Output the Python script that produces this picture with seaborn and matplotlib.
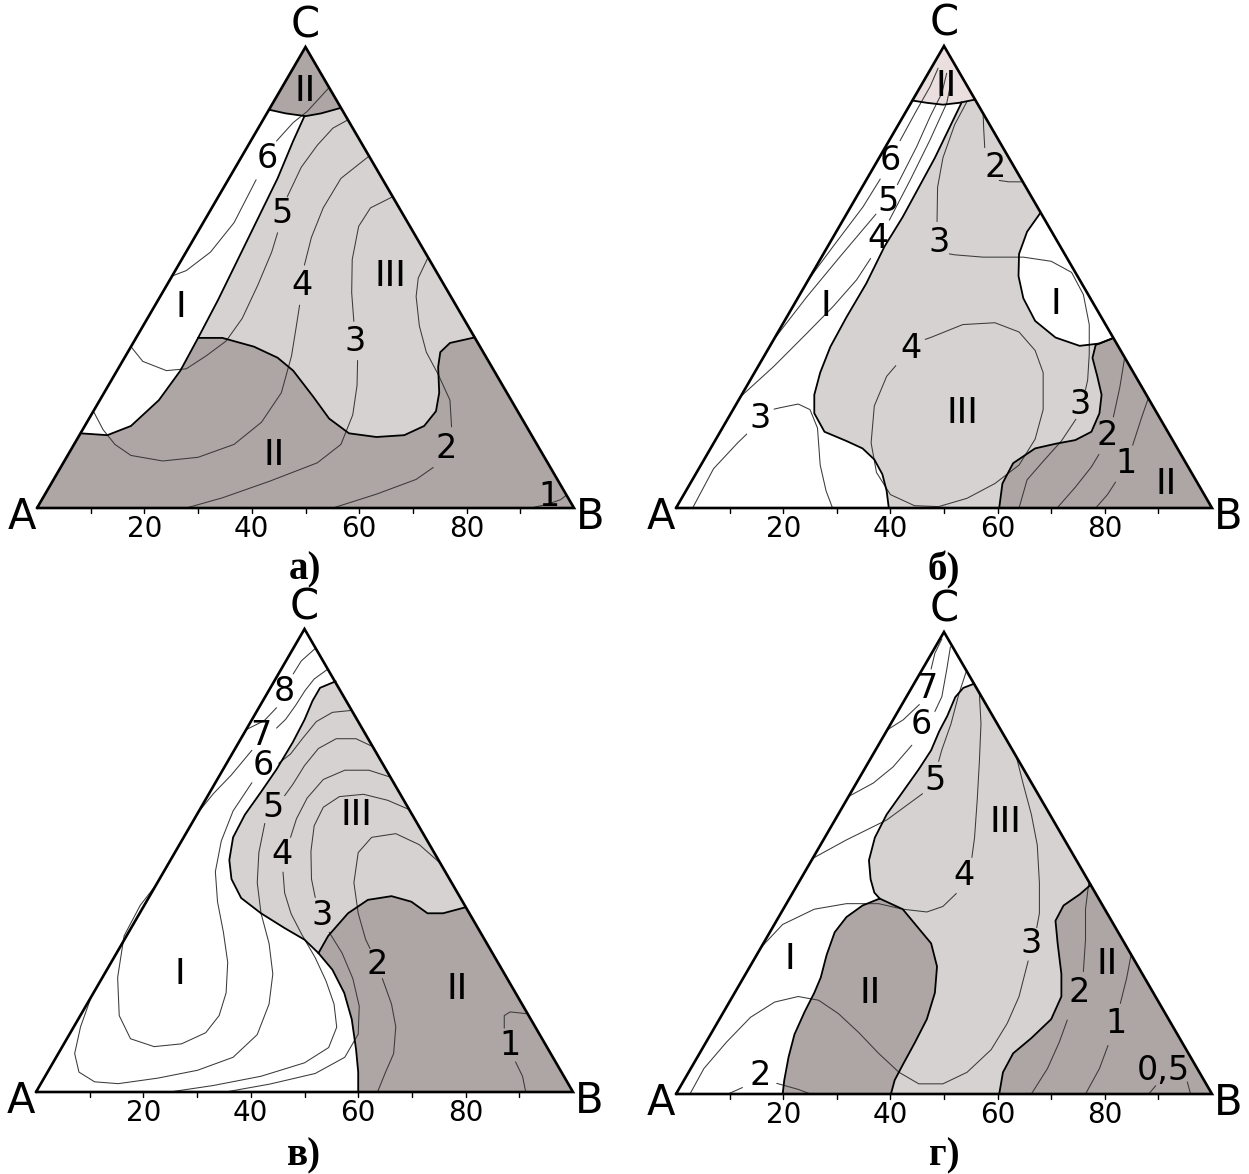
import numpy as np
import matplotlib
matplotlib.use("Agg")
import matplotlib.pyplot as plt
import seaborn as sns

sns.set_style("white")
plt.rcParams['font.family'] = ['DejaVu Sans']
plt.rcParams['text.color'] = 'black'

# Ternary points are (u, v): u = % along A->B, v = % of the triangle height
H = 86.6

c_dark = '#aea5a5'
c_light = '#d6d2d2'
c_pink = '#eadede'
c_line = '#3a3a3a'

tick_values = [20, 40, 60, 80]
vertex_names = ['A', 'B', 'C']

# ---------------- panel а) ----------------
a_top_II = [(43.2, 86.4), (46.3, 85.6), (50.0, 85.0), (52.9, 85.6), (56.6, 86.8)]
a_I_III = [(49.8, 85.0), (47.7, 79.6), (44.8, 71.5), (41.1, 62.7), (37.4, 53.9),
           (33.7, 45.1), (30.0, 36.9)]
a_I_II = [(30.0, 36.9), (26.7, 29.8), (22.7, 23.4), (17.5, 17.8), (13.1, 15.8), (8.1, 16.2)]
a_II_III = [(30.0, 36.9), (34.5, 36.9), (40.4, 35.0), (44.8, 32.6), (47.7, 29.8),
            (51.4, 24.2), (54.4, 19.4), (58.1, 16.2), (63.2, 15.4), (68.4, 15.8),
            (72.1, 17.8), (74.3, 21.0), (74.9, 25.0), (74.7, 30.6), (75.1, 33.8),
            (76.9, 35.8), (81.5, 37.0)]
a_contours = [
    [[(25.1, 50.3), (27.8, 51.5), (32.3, 55.5), (36.7, 61.9), (40.8, 71.2)],
     [(44.6, 79.6), (47.7, 83.6), (50.3, 86.0), (54.4, 91.2)]],
    [[(17.5, 35.0), (19.7, 31.8), (24.1, 29.8), (27.8, 30.2), (31.5, 33.0), (35.2, 36.2),
      (38.2, 41.1), (41.1, 48.3), (43.7, 55.5), (44.8, 59.7)],
     [(46.6, 67.5), (49.2, 73.9), (52.2, 78.7), (55.1, 82.4), (57.9, 84.2)]],
    [[(10.5, 21.0), (12.3, 17.0), (14.5, 13.8), (17.5, 11.4), (23.4, 10.2), (30.0, 11.0),
      (36.7, 13.8), (41.8, 18.6), (45.5, 25.0), (47.4, 33.0), (48.3, 39.5), (48.9, 44.0)],
     [(49.8, 52.7), (51.1, 58.7), (53.3, 65.1), (56.6, 71.5), (61.8, 76.3)]],
    [[(27.8, 0), (34.5, 2.2), (43.3, 5.8), (52.2, 9.8), (56.6, 13.8), (58.8, 20.2),
      (59.6, 26.6), (59.7, 32.0)],
     [(59.0, 40.5), (58.6, 46.7), (58.7, 53.9), (59.9, 61.1), (62.1, 65.1), (66.2, 67.5)]],
    [[(55.1, 0), (63.2, 3.0), (70.6, 6.2), (73.8, 8.8)],
     [(77.2, 17.6), (76.9, 23.4), (74.7, 29.0), (72.5, 33.8), (71.2, 39.5), (70.6, 45.9),
      (71.0, 49.9), (72.8, 54.3)]],
    [[(92.0, 0), (95.0, 0.8), (97.5, 1.8), (98.6, 2.8)]],
]
a_labels = [('II', 50.0, 90.4), ('6', 42.95, 75.9), ('5', 45.7, 63.9), ('4', 49.4, 48.3),
            ('III', 65.8, 50.3), ('I', 26.7, 43.5), ('3', 59.2, 36.2), ('II', 44.1, 11.4),
            ('2', 76.2, 13.0), ('1', 95.4, 2.6)]

# ---------------- panel б) ----------------
b_top_II = [(44.1, 88.2), (46.8, 87.7), (49.8, 87.3), (52.8, 87.7), (55.8, 88.4)]
b_III_left = [(53.3, 87.8), (51.3, 83.0), (48.3, 75.8), (45.3, 69.4), (42.3, 63.0),
              (38.9, 56.6), (35.5, 48.6), (31.8, 41.3), (28.8, 34.9), (26.9, 29.3),
              (25.8, 24.5), (25.8, 20.5), (27.7, 16.5), (31.8, 14.5), (34.8, 12.9),
              (37.0, 10.5), (38.5, 7.3), (39.3, 3.7), (39.7, 0)]
b_circle = [(68.0, 63.9), (65.5, 59.8), (64.0, 55.0), (63.9, 50.2), (64.8, 45.4),
            (67.0, 40.5), (70.8, 36.9), (75.3, 35.1), (79.0, 35.6), (81.4, 36.7)]
b_II_III = [(60.3, 0), (60.9, 5.3), (62.9, 9.7), (67.0, 12.9), (70.8, 13.9), (74.5, 14.7),
            (77.5, 16.5), (79.0, 20.5), (79.4, 24.5), (78.6, 28.5), (77.7, 32.5),
            (78.3, 35.3), (81.4, 36.7)]
b_contours = [
    [[(24.7, 49.4), (29.3, 56.6), (34.9, 65.2), (38.1, 71.2)],
     [(41.8, 79.5), (44.9, 86.1), (47.4, 91.2), (48.9, 95.2)]],
    [[(18.4, 36.7), (24.4, 45.7), (30.6, 54.4), (37.3, 63.6)],
     [(41.3, 70.0), (44.9, 78.2), (47.4, 84.7), (49.6, 89.8), (50.5, 94.1)]],
    [[(12.05, 24.1), (18.2, 30.6), (24.4, 37.8), (29.3, 43.6), (33.7, 49.4), (36.3, 54.0)],
     [(39.8, 62.3), (43.7, 71.0), (47.4, 79.7), (50.5, 87.6), (51.4, 92.6)]],
    [[(3.1, 0), (7.0, 8.5), (11.5, 14.1), (13.2, 16.0)],
     [(18.3, 21.4), (19.4, 21.7), (22.8, 22.5), (25.0, 21.3), (26.4, 17.3), (26.9, 9.3),
      (28.0, 3.7), (29.2, 0)]],
    [[(46.5, 36.5), (47.5, 36.9), (53.5, 39.7), (59.5, 40.1), (64.0, 38.1), (67.0, 34.1),
      (68.5, 29.3), (68.5, 21.3), (67.0, 14.9), (64.0, 9.3), (59.5, 5.3), (54.3, 2.1),
      (49.0, 0.3), (44.5, 0.5), (40.0, 2.9), (37.4, 7.7), (36.4, 14.1), (37.0, 22.1),
      (39.3, 28.5), (41.0, 30.8)]],
    [[(57.3, 85.4), (57.4, 82.2), (57.6, 78.0)],
     [(60.3, 70.9), (62.1, 70.6), (64.7, 70.6)]],
    [[(54.3, 88.0), (52.0, 83.0), (49.8, 75.8), (48.8, 69.4), (48.7, 62.0)],
     [(51.0, 55.0), (52.0, 54.8), (57.3, 54.3), (64.8, 54.3), (70.0, 53.4), (73.8, 51.0),
      (76.0, 46.2), (77.1, 39.7), (77.1, 33.3), (76.8, 27.7), (76.4, 25.6)],
     [(74.6, 19.2), (71.9, 14.5), (68.5, 10.1), (65.5, 6.1), (64.0, 0)]],
    [[(71.1, 0), (74.5, 4.5), (77.5, 8.9), (78.9, 11.6)],
     [(81.6, 19.7), (82.8, 26.1), (83.7, 32.5)]],
    [[(78.3, 0), (80.5, 2.9), (82.0, 5.6)],
     [(85.2, 13.6), (86.9, 19.7), (88.1, 23.7)]],
]
b_labels = [('II', 50.4, 91.4), ('6', 39.9, 75.3), ('5', 39.6, 66.3), ('4', 37.7, 58.4),
            ('I', 27.9, 43.8), ('2', 59.5, 73.8), ('3', 49.0, 57.4), ('I', 70.8, 44.2),
            ('4', 43.8, 34.5), ('III', 53.5, 20.5), ('3', 75.3, 22.5), ('2', 80.5, 15.7),
            ('1', 83.9, 9.7), ('II', 91.4, 5.3), ('3', 15.7, 19.3)]

# ---------------- panel в) ----------------
c_III_left = [(55.8, 88.7), (52.9, 87.3), (51.5, 84.5), (50.0, 80.4), (47.8, 75.5),
              (44.8, 69.7), (41.9, 64.8), (38.9, 59.9), (36.7, 55.0), (36.0, 50.1),
              (36.4, 46.0), (38.2, 41.9), (41.9, 38.6), (46.3, 35.4), (50.0, 32.9),
              (52.6, 30.0)]
c_II_III = [(52.6, 30.0), (54.4, 33.7), (58.1, 38.6), (61.8, 41.5), (66.2, 42.3),
            (69.9, 41.1), (72.9, 38.6), (75.8, 38.6), (80.0, 39.9)]
c_I_II = [(52.6, 30.0), (55.2, 26.4), (57.4, 21.4), (58.8, 15.7), (59.6, 9.2),
          (60.0, 4.3), (60.0, 0)]
c_contours = [
    [[(52.0, 95.8), (49.4, 93.1), (47.9, 90.3)],
     [(44.8, 83.0), (42.5, 80.2), (39.2, 78.3)]],
    [[(54.3, 91.3), (51.8, 89.2), (50.1, 86.7), (48.4, 83.6), (46.5, 80.5), (44.8, 78.6)],
     [(40.2, 73.8), (36.4, 68.5), (33.0, 64.4), (30.15, 60.3)]],
    [[(58.6, 82.4), (55.2, 82.0), (52.2, 80.0), (49.6, 76.3), (47.4, 73.0), (45.2, 71.0)],
     [(40.2, 66.8), (36.7, 60.7), (34.5, 54.2), (33.4, 47.6), (33.8, 41.1), (34.9, 34.5),
      (35.7, 28.0), (35.4, 21.4), (34.1, 16.5), (31.6, 12.8), (27.1, 10.4), (22.0, 9.8),
      (17.6, 11.5), (15.5, 16.5), (15.2, 24.7), (16.4, 33.7), (19.4, 40.3), (22.4, 44.8)]],
    [[(62.7, 74.6), (59.6, 76.3), (55.9, 76.3), (52.6, 74.2), (50.0, 70.5), (47.8, 66.4),
      (46.3, 64.0)],
     [(42.6, 58.0), (41.5, 51.7), (41.2, 45.2), (41.9, 38.6), (43.4, 32.1), (44.1, 25.5),
      (43.4, 19.0), (41.2, 12.4), (36.7, 7.5), (30.1, 4.7), (22.7, 3.0), (15.3, 1.8),
      (10.9, 2.2), (8.0, 4.3), (7.2, 8.3), (8.3, 14.1), (10.3, 20.6)]],
    [[(66.0, 68.0), (62.0, 69.5), (57.5, 69.5), (53.5, 67.5), (50.5, 63.5), (48.5, 59.0),
      (47.4, 55.0)],
     [(46.0, 47.5), (46.3, 43.0), (47.5, 38.5), (49.5, 34.0), (52.0, 29.0), (54.0, 24.0),
      (55.5, 19.0), (56.0, 14.0), (54.5, 9.6), (50.0, 6.3), (41.9, 3.4), (33.0, 1.4),
      (24.9, 0)]],
    [[(69.5, 61.0), (65.5, 63.0), (61.0, 64.3), (56.5, 63.8), (53.5, 61.5), (51.8, 57.5),
      (51.2, 52.0), (51.3, 46.0), (52.0, 42.0)],
     [(54.6, 34.5), (57.0, 30.0), (59.0, 24.5), (60.2, 18.5), (60.0, 12.5), (57.5, 7.5),
      (52.0, 4.0), (43.5, 1.7), (35.3, 0)]],
    [[(75.4, 49.3), (71.4, 53.4), (67.0, 55.8), (62.5, 55.0), (60.0, 51.7), (59.2, 45.2),
      (60.0, 38.6), (61.4, 32.9), (62.2, 31.0)],
     [(64.5, 24.5), (66.2, 19.0), (67.0, 14.1), (66.6, 8.3), (65.1, 4.3), (63.6, 0)]],
    [[(91.5, 16.9), (88.3, 17.3), (87.2, 16.5), (87.2, 13.8)],
     [(89.3, 6.5), (90.6, 3.4), (91.2, 0)]],
]
c_labels = [('8', 46.3, 86.5), ('7', 41.9, 77.1), ('6', 42.3, 70.5), ('5', 44.1, 61.5),
            ('4', 45.9, 51.3), ('III', 59.6, 59.9), ('3', 53.3, 38.2), ('2', 63.6, 27.6),
            ('I', 26.8, 25.5), ('II', 78.4, 22.3), ('1', 88.3, 10.0)]

# ---------------- panel г) ----------------
d_III_left = [(55.6, 88.8), (53.6, 87.9), (52.1, 85.9), (50.6, 81.8), (49.1, 78.5),
              (47.6, 74.4), (45.3, 70.3), (42.3, 65.4), (39.3, 60.5), (37.1, 55.5),
              (36.0, 50.6), (36.3, 46.5), (37.0, 43.6), (38.0, 42.3)]
d_III_IIl = [(38.0, 42.3), (42.3, 40.0), (45.3, 35.8), (47.6, 32.6), (48.7, 27.6),
             (48.3, 21.9), (46.8, 16.2), (44.6, 11.2), (42.3, 6.3), (40.8, 3.0), (40.1, 0)]
d_IIl_I = [(38.0, 42.3), (34.8, 40.8), (31.8, 38.3), (29.6, 35.0), (28.1, 30.1),
           (27.0, 25.2), (25.8, 21.9), (24.0, 17.8), (22.1, 12.9), (21.0, 8.0),
           (20.2, 3.0), (19.9, 0)]
d_IIr_III = [(60.3, 0), (61.0, 4.7), (62.9, 8.8), (66.3, 12.1), (70.0, 16.2), (71.9, 21.1),
             (71.9, 26.0), (71.2, 32.6), (70.8, 37.5), (72.3, 40.8), (75.3, 43.2),
             (77.4, 45.3)]
d_contours = [
    [[(49.6, 98.5), (48.3, 95.4), (47.6, 92.0)],
     [(45.4, 84.3), (42.4, 81.0), (39.4, 78.8)]],
    [[(51.2, 96.8), (50.5, 91.8), (49.6, 86.0), (48.3, 82.8)],
     [(44.0, 75.5), (40.5, 70.8), (36.8, 67.3), (32.2, 64.4)]],
    [[(54.2, 91.6), (52.8, 86.7), (51.3, 80.1), (49.6, 74.5), (49.0, 72.0)],
     [(46.0, 65.0), (39.3, 59.3), (31.8, 55.0), (25.5, 51.0)]],
    [[(56.6, 86.7), (56.9, 80.2), (56.6, 71.9), (56.2, 63.7), (55.7, 55.5), (55.2, 51.2)],
     [(52.3, 43.4), (49.8, 40.6), (46.8, 39.4), (42.3, 40.0), (37.8, 41.2), (31.8, 41.2),
      (25.8, 40.0), (19.9, 36.7), (16.0, 31.9)]],
    [[(63.5, 73.0), (64.8, 67.0), (66.3, 60.5), (67.4, 53.9), (67.8, 45.7), (67.8, 39.1),
      (67.3, 36.0)],
     [(65.7, 28.8), (64.0, 21.1), (61.8, 15.3), (58.8, 9.6), (54.3, 4.7), (49.8, 2.2),
      (45.3, 2.2), (41.6, 4.7), (37.8, 8.8), (34.1, 13.3), (30.3, 17.4), (26.6, 20.3),
      (22.8, 21.1), (18.4, 19.9), (13.9, 16.6), (9.4, 11.2), (5.2, 5.5), (2.6, 0)]],
    [[(9.7, 0), (12.4, 1.4)], [(18.8, 2.3), (22.8, 1.0), (25.1, 0)]],
    [[(66.3, 0), (69.3, 5.5), (71.5, 11.2), (73.0, 16.0)],
     [(76.0, 26.5), (76.4, 33.4), (76.4, 40.0), (77.0, 45.6)]],
    [[(76.4, 0), (79.0, 5.5), (80.6, 10.5)],
     [(82.9, 19.6), (84.1, 25.2), (84.9, 30.1)]],
    [[(88.2, 0), (89.5, 1.8)], [(95.4, 2.6), (96.0, 0)]],
]
d_labels = [('7', 46.8, 87.8), ('6', 45.8, 79.9), ('5', 48.3, 67.8), ('III', 61.4, 58.8),
            ('4', 53.7, 47.3), ('3', 66.3, 32.6), ('I', 21.3, 29.3), ('II', 36.3, 21.9),
            ('II', 80.5, 28.1), ('2', 75.3, 21.9), ('1', 82.0, 15.3), ('0,5', 91.0, 5.1),
            ('2', 15.7, 3.9)]

A, B, C = (0, 0), (100, 0), (50, 100)


def rev(p):
    return list(p)[::-1]


# filled regions for each panel, drawn in order
a_fills = [
    ([A, B, C], c_light),
    (a_I_III + a_I_II + [a_top_II[0]] + a_top_II[1:3], 'white'),
    ([A, a_I_II[-1]] + rev(a_I_II) + a_II_III + [B], c_dark),
    (a_top_II + [C], c_dark),
]
b_fills = [
    ([A, B, C], 'white'),
    (b_III_left[:1] + [b_top_II[-1], b_circle[0]] + b_circle + rev(b_II_III) + rev(b_III_left), c_light),
    (b_II_III + [B], c_dark),
    (b_top_II + [C], c_pink),
]
c_fills = [
    ([A, B, C], 'white'),
    (c_III_left + c_II_III, c_light),
    (rev(c_I_II) + c_II_III + [B], c_dark),
]
d_fills = [
    ([A, B, C], 'white'),
    (d_III_left + d_III_IIl + d_IIr_III, c_light),
    (d_IIl_I + rev(d_III_IIl), c_dark),
    (d_IIr_III + [B], c_dark),
]

panels = [
    dict(rect=(37, 508, 537, 461), fills=a_fills,
         borders=[a_top_II, a_I_III, a_I_II, a_II_III],
         contours=a_contours, labels=a_labels, caption='а)', cap_off=62),
    dict(rect=(676, 508, 536, 462), fills=b_fills,
         borders=[b_top_II, b_III_left, b_circle, b_II_III],
         contours=b_contours, labels=b_labels, caption='б)', cap_off=62),
    dict(rect=(36, 1092, 537, 463), fills=c_fills,
         borders=[c_III_left, c_II_III, c_I_II],
         contours=c_contours, labels=c_labels, caption='в)', cap_off=64),
    dict(rect=(676, 1094, 536, 462), fills=d_fills,
         borders=[d_III_left, d_III_IIl, d_IIl_I, d_IIr_III],
         contours=d_contours, labels=d_labels, caption='г)', cap_off=62),
]


def xy(pts):
    arr = np.asarray(pts, dtype=float)
    return arr[:, 0], arr[:, 1] * H / 100.0


W_PX, H_PX = 1249, 1174
fig = plt.figure(figsize=(W_PX / 100, H_PX / 100), dpi=100)
PT = 0.72  # points per pixel at 100 dpi

for p in panels:
    x0, y0, w, h = p['rect']
    ax = fig.add_axes([x0 / W_PX, (H_PX - y0) / H_PX, w / W_PX, h / H_PX])
    ax.set_xlim(0, 100)
    ax.set_ylim(0, H)
    ax.axis('off')

    for poly, col in p['fills']:
        px, py = xy(poly)
        ax.fill(px, py, color=col, lw=0, zorder=1)

    for seg in p['borders']:
        px, py = xy(seg)
        sns.lineplot(x=px, y=py, sort=False, estimator=None, ax=ax, color='black',
                     linewidth=1.3, zorder=3, legend=False)

    for contour in p['contours']:
        for seg in contour:
            px, py = xy(seg)
            sns.lineplot(x=px, y=py, sort=False, estimator=None, ax=ax, color=c_line,
                         linewidth=0.75, zorder=2, legend=False)

    # triangle frame
    fx, fy = xy([A, B, C, A])
    ax.plot(fx, fy, color='black', lw=1.9, zorder=4, clip_on=False,
            solid_joinstyle='miter')

    # ticks along A-B
    for t in range(10, 100, 10):
        ax.plot([t, t], [0, -1.0], color='black', lw=1.0, clip_on=False, zorder=4)
    for t in tick_values:
        ax.annotate(str(t), xy=(t, 0), xytext=(0, -21 * PT), textcoords='offset points',
                    ha='center', va='center', fontsize=20)

    # vertex names
    ax.annotate(vertex_names[0], xy=(0, 0), xytext=(-15 * PT, -9 * PT),
                textcoords='offset points', ha='center', va='center', fontsize=30)
    ax.annotate(vertex_names[1], xy=(100, 0), xytext=(16 * PT, -9 * PT),
                textcoords='offset points', ha='center', va='center', fontsize=30)
    ax.annotate(vertex_names[2], xy=(50, H), xytext=(0, 22 * PT),
                textcoords='offset points', ha='center', va='center', fontsize=30)

    # region and contour labels
    for text, u, v in p['labels']:
        size = 26 if set(text) == {'I'} else 24
        ax.text(u, v * H / 100, text, ha='center', va='center', fontsize=size, zorder=5)

    ax.annotate(p['caption'], xy=(50, 0), xytext=(0, -p['cap_off'] * PT),
                textcoords='offset points', ha='center', va='center', fontsize=28,
                fontweight='bold', family=['Liberation Serif', 'DejaVu Serif'])

fig.savefig('out.png', dpi=100)
